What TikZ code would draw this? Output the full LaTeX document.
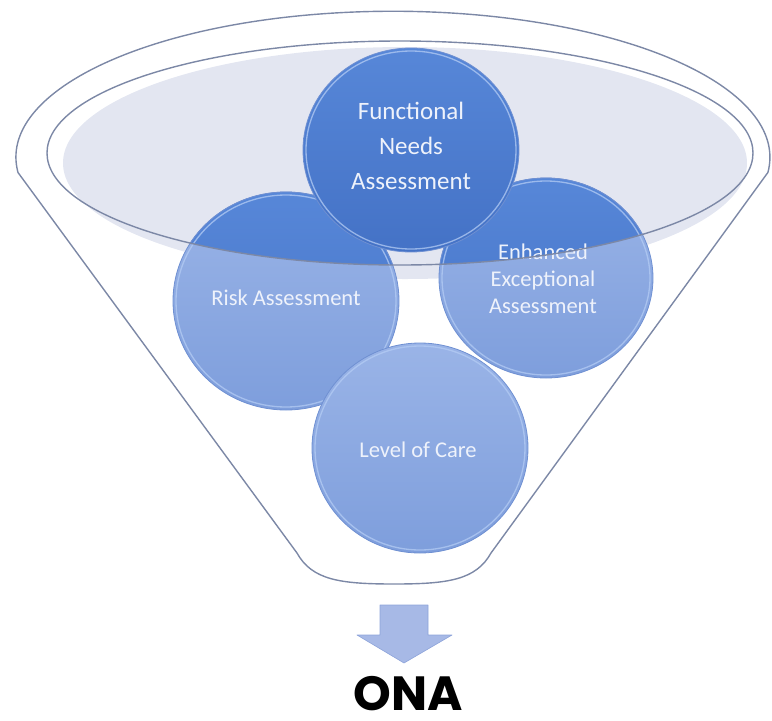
\documentclass[tikz,border=0pt]{standalone}
\usepackage{fontspec}
\setmainfont{Carlito}
\newfontfamily\onafont{Poppins}
\usetikzlibrary{shapes.geometric}
\definecolor{funnelline}{HTML}{7C88A6}
\definecolor{shadefill}{HTML}{E3E6F1}
\definecolor{lighttop}{HTML}{9AB4E7}
\definecolor{lightbot}{HTML}{7E9EDC}
\definecolor{darktop}{HTML}{5787D8}
\definecolor{darkbot}{HTML}{4472C6}
\definecolor{rimdark}{HTML}{6F90D2}
\definecolor{rimlight}{HTML}{B4CCF4}
\definecolor{txtcol}{HTML}{EEF2FB}
\definecolor{arrowfill}{HTML}{A7B9E6}
\definecolor{arrowline}{HTML}{8DA3DA}
\tikzset{
  funnelstroke/.style={draw=funnelline, line width=1.4pt},
  lightdisc/.style={top color=lighttop, bottom color=lightbot, draw=rimdark, line width=0.8pt},
  darkdisc/.style={top color=darktop, bottom color=darkbot, draw=rimdark, line width=0.8pt},
  rimring/.style={draw=rimlight, line width=1.3pt, opacity=0.75},
  lbl/.style={text=txtcol, align=center, inner sep=0pt},
}
\begin{document}
\begin{tikzpicture}[x=1pt,y=-1pt]
\useasboundingbox (0,0) rectangle (772,721);
% outer funnel outline
\draw[funnelstroke, line join=round]
  (297,553) -- (18,172.5) arc[start angle=174, end angle=366, x radius=377, y radius=146]
  -- (491,553)
  .. controls (476,580) and (448,584) .. (394,584)
  .. controls (340,584) and (312,580) .. (297,553);
% shaded interior of the rim
\fill[shadefill] (405,163) ellipse[x radius=342, y radius=116];
% circles, light versions
\coordinate (cRisk) at (286,301);
\coordinate (cEnh) at (546,278);
\coordinate (cLev) at (420,448);
\coordinate (cFun) at (411,150);
\path[lightdisc] (cRisk) ellipse[x radius=113, y radius=109];
\path[rimring] (cRisk) ellipse[x radius=110, y radius=106];
\path[lightdisc] (cEnh) ellipse[x radius=107, y radius=100];
\path[rimring] (cEnh) ellipse[x radius=104, y radius=97];
% dark part of the circles inside the rim
\begin{scope}
  \clip (400,153) ellipse[x radius=353, y radius=112];
  \path[darkdisc] (cRisk) ellipse[x radius=113, y radius=109];
  \path[rimring] (cRisk) ellipse[x radius=110, y radius=106];
  \path[darkdisc] (cEnh) ellipse[x radius=107, y radius=100];
  \path[rimring] (cEnh) ellipse[x radius=104, y radius=97];
\end{scope}
\path[lightdisc] (cLev) ellipse[x radius=108, y radius=105];
\path[rimring] (cLev) ellipse[x radius=105, y radius=102];
\path[darkdisc] (cFun) ellipse[x radius=108, y radius=102];
\path[rimring] (cFun) ellipse[x radius=105, y radius=99];
% labels
\node[lbl, font=\fontsize{25}{35}\selectfont] (tFun) at (411,146) {Functional\\Needs\\Assessment};
\node[lbl, font=\fontsize{22.5}{27}\selectfont] (tRisk) at (286,298) {Risk Assessment};
\node[lbl, font=\fontsize{22.5}{27}\selectfont] (tEnh) at (543,279) {Enhanced\\Exceptional\\Assessment};
\node[lbl, font=\fontsize{22.5}{27}\selectfont] (tLev) at (418,450) {Level of Care};
% inner rim ellipse
\draw[funnelstroke] (400,153) ellipse[x radius=353, y radius=112];
% down arrow
\draw[fill=arrowfill, draw=arrowline, line width=0.6pt, line join=round]
  (380,605) -- (428,605) -- (428,635) -- (452,635) -- (404,663) -- (357,635) -- (380,635) -- cycle;
% result
\node[anchor=base, inner sep=0pt, font=\onafont\bfseries\fontsize{48}{48}\selectfont] (ona) at (408,710) {ONA};
\end{tikzpicture}
\end{document}
